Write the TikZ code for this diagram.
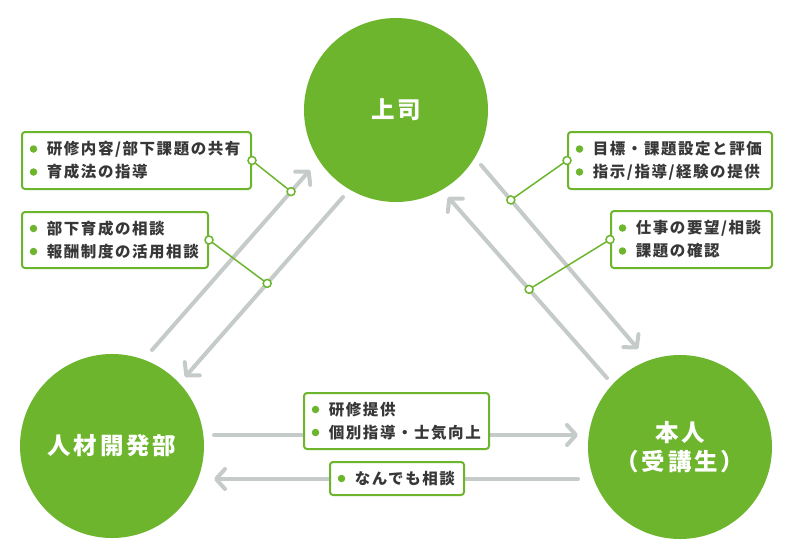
\documentclass[tikz,border=0pt]{standalone}
\usepackage{fontspec}
\setmainfont{Noto Sans CJK JP}
\newfontfamily\boxfont[LetterSpace=10]{Noto Sans CJK JP}
\newfontfamily\circfont[LetterSpace=12]{Noto Sans CJK JP}
\usetikzlibrary{arrows.meta,calc}
\definecolor{gr}{RGB}{108,181,45}
\definecolor{arr}{RGB}{196,203,200}
\definecolor{txt}{RGB}{55,55,55}
\tikzset{
 circ/.style={circle,fill=gr,minimum size=184pt,inner sep=0pt,text=white,
   font=\circfont\bfseries\fontsize{23.5}{29.5}\selectfont,align=center},
 flow/.style={draw=arr,line width=4pt,line cap=round,
   -{Straight Barb[length=9pt,width=20pt,round]}},
 box/.style={draw=gr,line width=2pt,rounded corners=3pt,fill=white,inner sep=0pt,anchor=north west},
 item/.style={anchor=west,inner sep=0pt,text=txt,font=\boxfont\bfseries\fontsize{15.5}{16}\selectfont},
 lead/.style={draw=gr,line width=1.5pt},
 pin/.style={circle,draw=gr,fill=white,line width=1.5pt,minimum size=8pt,inner sep=0pt},
 bul/.style={circle,fill=gr,minimum size=7.5pt,inner sep=0pt},
}
\newcommand\twobox[7]{%
 \node[box,minimum width=#4pt,minimum height=#5pt] (#1) at (#2,#3) {};
 \node[bul] (#1b1) at ($(#1.west)+(12.5,-11.5)$) {};
 \node[bul] (#1b2) at ($(#1.west)+(12.5,11.5)$) {};
 \node[item] (#1t1) at ($(#1.west)+(25.7,-11.5)$) {#6};
 \node[item] (#1t2) at ($(#1.west)+(25.7,11.5)$) {#7};
}
\begin{document}
\begin{tikzpicture}[x=1pt,y=-1pt]
\useasboundingbox (0,0) rectangle (792,558);
% circles
\node[circ] (boss) at (396,110) {上司};
\node[circ] (hr) at (112,446) {人材開発部};
\node[circ] (me) at (680,447) {本人\\（受講生）};
% arrow end points
\coordinate (l1s) at (152,350); \coordinate (l1e) at (310,170);
\coordinate (l2s) at (343,197); \coordinate (l2e) at (185,377);
\coordinate (r1s) at (481,165); \coordinate (r1e) at (638,349);
\coordinate (r2s) at (607,378); \coordinate (r2e) at (448,197);
\coordinate (h1s) at (214,435); \coordinate (h1e) at (578,435);
\coordinate (h2s) at (578,479); \coordinate (h2e) at (214,479);
\draw[flow] (l1s) -- (l1e);
\draw[flow] (l2s) -- (l2e);
\draw[flow] (r1s) -- (r1e);
\draw[flow] (r2s) -- (r2e);
\draw[flow] (h1s) -- (h1e);
\draw[flow] (h2s) -- (h2e);
\coordinate (k1) at ($(l1s)!0.88!(l1e)$);
\coordinate (k2) at ($(l2s)!0.48!(l2e)$);
\coordinate (k3) at ($(r1s)!0.19!(r1e)$);
\coordinate (k4) at ($(r2s)!0.49!(r2e)$);
% boxes
\twobox{A}{21}{131}{229}{57}{研修内容/部下課題の共有}{育成法の指導}
\twobox{B}{21}{211}{186}{56}{部下育成の相談}{報酬制度の活用相談}
\twobox{C}{567}{131}{204}{57}{目標・課題設定と評価}{指示/指導/経験の提供}
\twobox{D}{610}{210}{161}{57}{仕事の要望/相談}{課題の確認}
\twobox{E}{303}{392}{185}{56}{研修提供}{個別指導・士気向上}
\node[box,minimum width=134pt,minimum height=33pt] (F) at (329,461) {};
\node[bul] (Fb1) at ($(F.west)+(12.5,0)$) {};
\node[item] (Ft1) at ($(F.west)+(25.7,0)$) {なんでも相談};
% leader lines
\draw[lead] (A.east) -- (k1);
\draw[lead] (B.east) -- (k2);
\draw[lead] (C.west) -- (k3);
\draw[lead] (D.west) -- (k4);
\node[pin] (pA) at (A.east) {};
\node[pin] (pB) at (B.east) {};
\node[pin] (pC) at (C.west) {};
\node[pin] (pD) at (D.west) {};
\node[pin] (p1) at (k1) {};
\node[pin] (p2) at (k2) {};
\node[pin] (p3) at (k3) {};
\node[pin] (p4) at (k4) {};
\end{tikzpicture}
\end{document}
